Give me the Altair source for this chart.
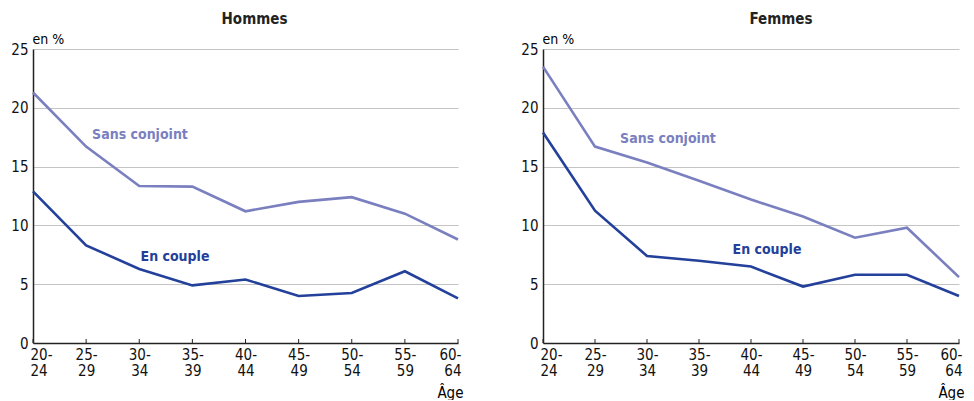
import altair as alt
import pandas as pd

ages = ["20-24", "25-29", "30-34", "35-39", "40-44", "45-49", "50-54", "55-59", "60-64"]
series = ["Sans conjoint", "En couple"]
h_sans = [21.3, 16.7, 13.35, 13.3, 11.2, 12.0, 12.4, 11.0, 8.8]
h_couple = [12.9, 8.3, 6.3, 4.9, 5.4, 4.0, 4.25, 6.1, 3.8]
f_sans = [23.5, 16.7, 15.35, 13.8, 12.2, 10.75, 8.95, 9.8, 5.6]
f_couple = [17.9, 11.25, 7.4, 7.0, 6.5, 4.8, 5.8, 5.8, 4.0]
y_ticks = [0, 5, 10, 15, 20, 25]

FONT = "Liberation Sans Narrow, DejaVu Sans Condensed, Arial Narrow, sans-serif"
C_SANS = "#7a7fc0"
C_COUPLE = "#23409a"
H = 294


def panel(sans, couple, title, width, title_dx, sans_pos, couple_pos):
    df = pd.DataFrame({
        "age": ages * 2,
        "serie": [series[0]] * len(ages) + [series[1]] * len(ages),
        "val": sans + couple,
    })
    x = alt.X(
        "age:N", sort=ages,
        scale=alt.Scale(type="point", padding=0),
        axis=alt.Axis(
            title="Âge", titleAnchor="end", titleAlign="right", titleBaseline="alphabetic",
            titleX=width + 5, titleY=54, titleFontWeight="normal", titleFontSize=15,
            labelAngle=0, labelExpr="[slice(datum.label,0,3), slice(datum.label,3)]",
            labelFlush=True, labelFlushOffset=3, ticks=False, domainColor="#222", domainWidth=1.5,
            labelFontSize=15, labelLineHeight=16, labelPadding=4, labelColor="#111",
        ),
    )
    y = alt.Y(
        "val:Q", scale=alt.Scale(domain=[0, 25]),
        axis=alt.Axis(
            values=y_ticks, title="en %", titleAngle=0, titleAlign="left",
            titleBaseline="alphabetic", titleX=-1, titleY=-6,
            titleFontWeight="normal", titleFontSize=14, ticks=False,
            domainColor="#222", domainWidth=1.5, gridColor="#c4c4c4", gridWidth=1.2,
            labelFontSize=15, labelPadding=5, minExtent=25, maxExtent=25, labelColor="#111",
        ),
    )
    lines = alt.Chart(df).mark_line(strokeWidth=2.6).encode(
        x=x, y=y,
        color=alt.Color("serie:N", scale=alt.Scale(domain=series, range=[C_SANS, C_COUPLE]), legend=None),
    )
    ticks = alt.Chart(pd.DataFrame({"age": ages})).mark_rule(color="#222", strokeWidth=1).encode(
        x=alt.X("age:N", sort=ages), y=alt.value(H), y2=alt.value(H - 4)
    )
    lab = pd.DataFrame({"t": series})
    t1 = alt.Chart(lab.iloc[[0]]).mark_text(
        font=FONT, fontSize=14, fontWeight="bold", color=C_SANS
    ).encode(text="t:N", x=alt.value(sans_pos[0]), y=alt.value(sans_pos[1]))
    t2 = alt.Chart(lab.iloc[[1]]).mark_text(
        font=FONT, fontSize=14, fontWeight="bold", color=C_COUPLE
    ).encode(text="t:N", x=alt.value(couple_pos[0]), y=alt.value(couple_pos[1]))
    return alt.layer(lines, ticks, t1, t2).properties(
        width=width, height=H,
        title=alt.TitleParams(title, fontSize=15, fontWeight="bold", font=FONT,
                              anchor="middle", dx=title_dx, offset=5, color="#222"),
    )


left = panel(h_sans, h_couple, "Hommes", 425, 9, (107, 86), (142, 208))
right = panel(f_sans, f_couple, "Femmes", 416, 30, (125, 90), (224, 201))

chart = alt.hconcat(left, right, spacing=54).properties(
    padding={"top": 4, "left": 0, "right": 0, "bottom": 0}
).configure(font=FONT).configure_view(stroke=None).configure_axis(labelFont=FONT, titleFont=FONT)

chart.save("out.html", embed_options={"renderer": "svg", "actions": False})
